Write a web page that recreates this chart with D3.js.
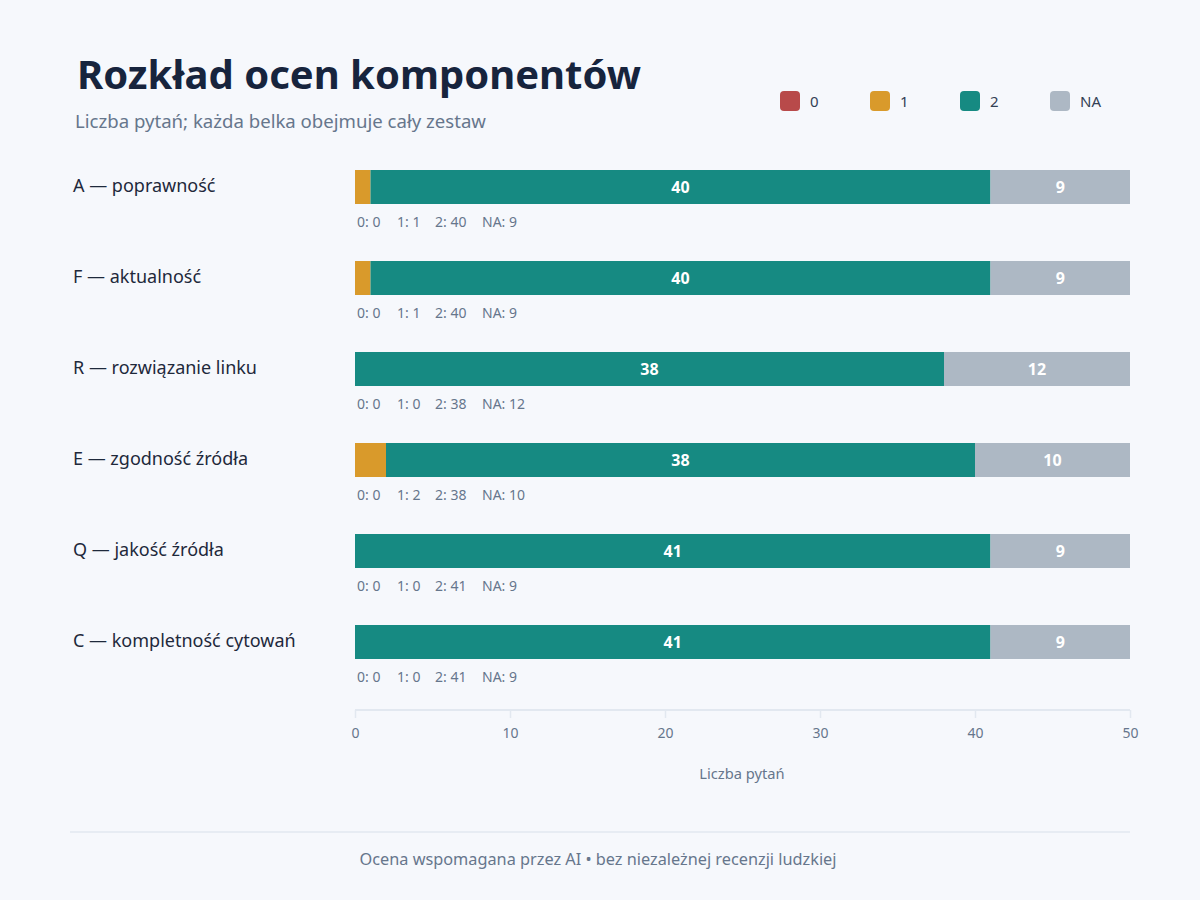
<!DOCTYPE html>
<html>
<head>
<meta charset="utf-8">
<script src="https://cdn.jsdelivr.net/npm/d3@7"></script>
<style>
  body { margin: 0; background: #f6f8fc; }
  text { font-family: "Noto Sans", "Open Sans", sans-serif; }
</style>
</head>
<body>
<div id="chart"></div>
<script>
const width = 1200
const height = 900

// dane
const components = ["A — poprawność", "F — aktualność", "R — rozwiązanie linku",
  "E — zgodność źródła", "Q — jakość źródła", "C — kompletność cytowań"]
const grades = ["0", "1", "2", "NA"]
const count0 = [0, 0, 0, 0, 0, 0]
const count1 = [1, 1, 0, 2, 0, 0]
const count2 = [40, 40, 38, 38, 41, 41]
const countNA = [9, 9, 12, 10, 9, 9]
const xTicks = [0, 10, 20, 30, 40, 50]
const colors = ["#b84a4a", "#d99a2b", "#168a82", "#adb8c4"]

const rows = components.map((c, i) => ({
  name: c,
  values: [count0[i], count1[i], count2[i], countNA[i]]
}))

const svg = d3.select("#chart").append("svg")
  .attr("width", width)
  .attr("height", height)
  .style("background-color", "#f6f8fc")

// tytuł
svg.append("text")
  .attr("x", 77).attr("y", 89)
  .attr("font-size", 40).attr("font-weight", 700)
  .attr("fill", "#17243d")
  .text("Rozkład ocen komponentów")

svg.append("text")
  .attr("x", 75).attr("y", 128)
  .attr("font-size", 18.6)
  .attr("fill", "#66768c")
  .text("Liczba pytań; każda belka obejmuje cały zestaw")

// legenda
const legend = svg.append("g").selectAll("g")
  .data(grades)
  .join("g")
  .attr("transform", (d, i) => `translate(${780 + i * 90},91)`)
legend.append("rect")
  .attr("width", 20).attr("height", 20).attr("rx", 4)
  .attr("fill", (d, i) => colors[i])
legend.append("text")
  .attr("x", 30).attr("y", 16)
  .attr("font-size", 15).attr("fill", "#334155")
  .text(d => d)

const x = d3.scaleLinear().domain([0, 50]).range([355, 1130])
const y = d3.scaleBand().domain(components).range([170, 716]).paddingInner(0).paddingOuter(0)
const barH = 34

const row = svg.append("g").selectAll("g")
  .data(rows)
  .join("g")
  .attr("transform", d => `translate(0,${y(d.name)})`)

row.append("text")
  .attr("x", 73).attr("y", 22)
  .attr("font-size", 18).attr("fill", "#1e293b")
  .text(d => d.name)

const stack = d => {
  let acc = 0
  return d.values.map((v, i) => {
    const s = { start: acc, end: acc + v, v, i }
    acc += v
    return s
  })
}

row.selectAll("rect")
  .data(stack)
  .join("rect")
  .attr("x", d => x(d.start))
  .attr("width", d => x(d.end) - x(d.start))
  .attr("y", 0).attr("height", barH)
  .attr("fill", d => colors[d.i])

row.selectAll(".seg-label")
  .data(d => stack(d).filter(s => s.v >= 5))
  .join("text")
  .attr("class", "seg-label")
  .attr("x", d => (x(d.start) + x(d.end)) / 2)
  .attr("y", 22.5)
  .attr("text-anchor", "middle")
  .attr("font-size", 16).attr("font-weight", 700)
  .attr("fill", "white")
  .text(d => d.v)

// podsumowanie pod belką
const statX = [357, 397, 435, 482]
row.selectAll(".stat")
  .data(d => d.values.map((v, i) => ({ v, i })))
  .join("text")
  .attr("class", "stat")
  .attr("x", d => statX[d.i])
  .attr("y", 57)
  .attr("font-size", 14).attr("fill", "#66768c")
  .text(d => `${grades[d.i]}: ${d.v}`)

// oś
const axis = svg.append("g")
  .attr("transform", "translate(0,710)")
  .call(d3.axisBottom(x).tickValues(xTicks).tickSize(8).tickPadding(10))
axis.select(".domain").attr("stroke", "#e2e8f0").attr("stroke-width", 2)
  .attr("d", "M355,0H1130")
axis.selectAll(".tick line").attr("stroke", "#e2e8f0").attr("stroke-width", 1.5)
  .attr("y1", 0).attr("y2", 8)
axis.selectAll(".tick text")
  .attr("font-size", 14).attr("fill", "#66768c")
  .attr("font-family", "Noto Sans, sans-serif")

svg.append("text")
  .attr("x", 742).attr("y", 779)
  .attr("text-anchor", "middle")
  .attr("font-size", 14.7).attr("fill", "#66768c")
  .text("Liczba pytań")

// stopka
svg.append("line")
  .attr("x1", 70).attr("x2", 1130)
  .attr("y1", 832).attr("y2", 832)
  .attr("stroke", "#e2e8f0").attr("stroke-width", 1.5)

svg.append("text")
  .attr("x", 598).attr("y", 865)
  .attr("text-anchor", "middle")
  .attr("font-size", 16.3).attr("fill", "#66768c")
  .text("Ocena wspomagana przez AI • bez niezależnej recenzji ludzkiej")
</script>
</body>
</html>
